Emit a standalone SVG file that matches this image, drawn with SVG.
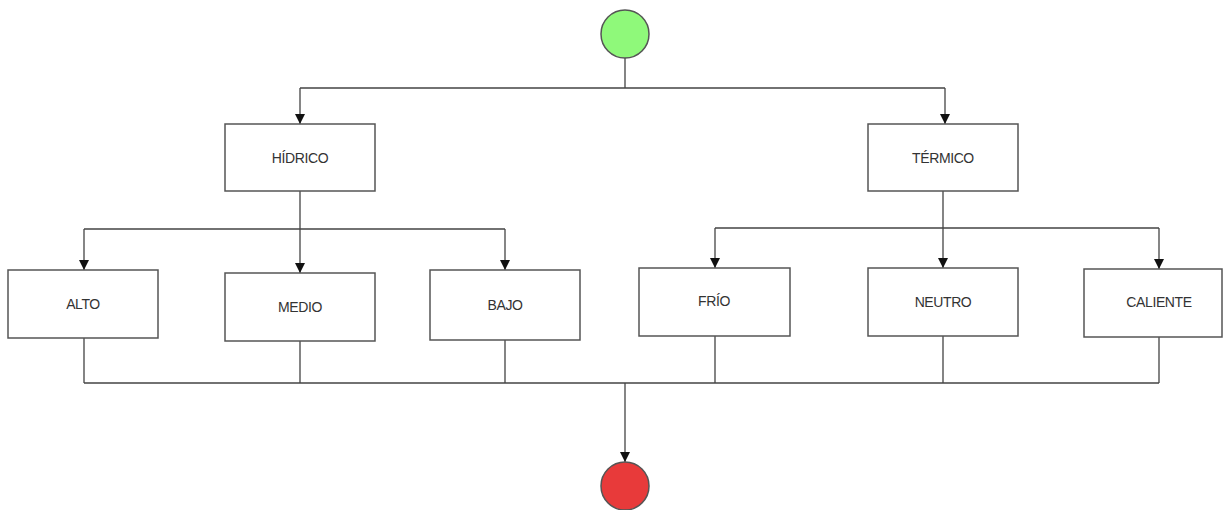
<svg xmlns="http://www.w3.org/2000/svg" width="1223" height="510" viewBox="0 0 1223 510">
<style>
.box{fill:#fff;stroke:#555;stroke-width:1.5}
.lbl{font-family:"Liberation Sans",Arial,sans-serif;font-size:14px;letter-spacing:-0.4px;fill:#333;text-anchor:middle;dominant-baseline:central}
.ln{fill:none;stroke:#444;stroke-width:1.3}
.arr{fill:none;stroke:#444;stroke-width:1.3;marker-end:url(#ah)}
</style>
<defs>
<marker id="ah" viewBox="0 0 10 10" refX="10" refY="5" markerWidth="10" markerHeight="10" markerUnits="userSpaceOnUse" orient="auto">
<path d="M0,0 L10,5 L0,10 Z" fill="#111"/>
</marker>
</defs>
<rect width="1223" height="510" fill="#fff"/>
<g id="connectors">
<path class="ln" d="M625,58 V88 M300,88 H945"/>
<path class="arr" d="M300,88 V124"/>
<path class="arr" d="M945,88 V124"/>
<path class="ln" d="M300,191 V229 M84,229 H505"/>
<path class="arr" d="M84,229 V270"/>
<path class="arr" d="M300,229 V273"/>
<path class="arr" d="M505,229 V270"/>
<path class="ln" d="M943,191 V228 M715,228 H1159"/>
<path class="arr" d="M715,228 V268"/>
<path class="arr" d="M943,228 V268"/>
<path class="arr" d="M1159,228 V269"/>
<path class="ln" d="M84,338 V383 M300,341 V383 M505,340 V383 M715,336 V383 M943,336 V383 M1159,337 V383 M84,383 H1159"/>
<path class="arr" d="M625,383 V462"/>
</g>
<g id="start"><circle cx="625" cy="34" r="24" fill="#8FF97A" stroke="#555" stroke-width="1.5"/></g>
<g id="end"><circle cx="625" cy="486" r="24" fill="#E83A3A" stroke="#555" stroke-width="1.5"/></g>
<g id="hidrico"><rect class="box" x="225" y="124" width="150" height="67"/><text class="lbl" x="300" y="158">HÍDRICO</text></g>
<g id="termico"><rect class="box" x="868" y="124" width="150" height="67"/><text class="lbl" x="943" y="158">TÉRMICO</text></g>
<g id="alto"><rect class="box" x="8" y="270" width="150" height="68"/><text class="lbl" x="83" y="304">ALTO</text></g>
<g id="medio"><rect class="box" x="225" y="273" width="150" height="68"/><text class="lbl" x="300" y="307">MEDIO</text></g>
<g id="bajo"><rect class="box" x="430" y="270" width="150" height="70"/><text class="lbl" x="505" y="305">BAJO</text></g>
<g id="frio"><rect class="box" x="639" y="268" width="151" height="68"/><text class="lbl" x="714" y="301">FRÍO</text></g>
<g id="neutro"><rect class="box" x="868" y="268" width="150" height="68"/><text class="lbl" x="943" y="302">NEUTRO</text></g>
<g id="caliente"><rect class="box" x="1084" y="269" width="138" height="68"/><text class="lbl" x="1159" y="302">CALIENTE</text></g>
</svg>
